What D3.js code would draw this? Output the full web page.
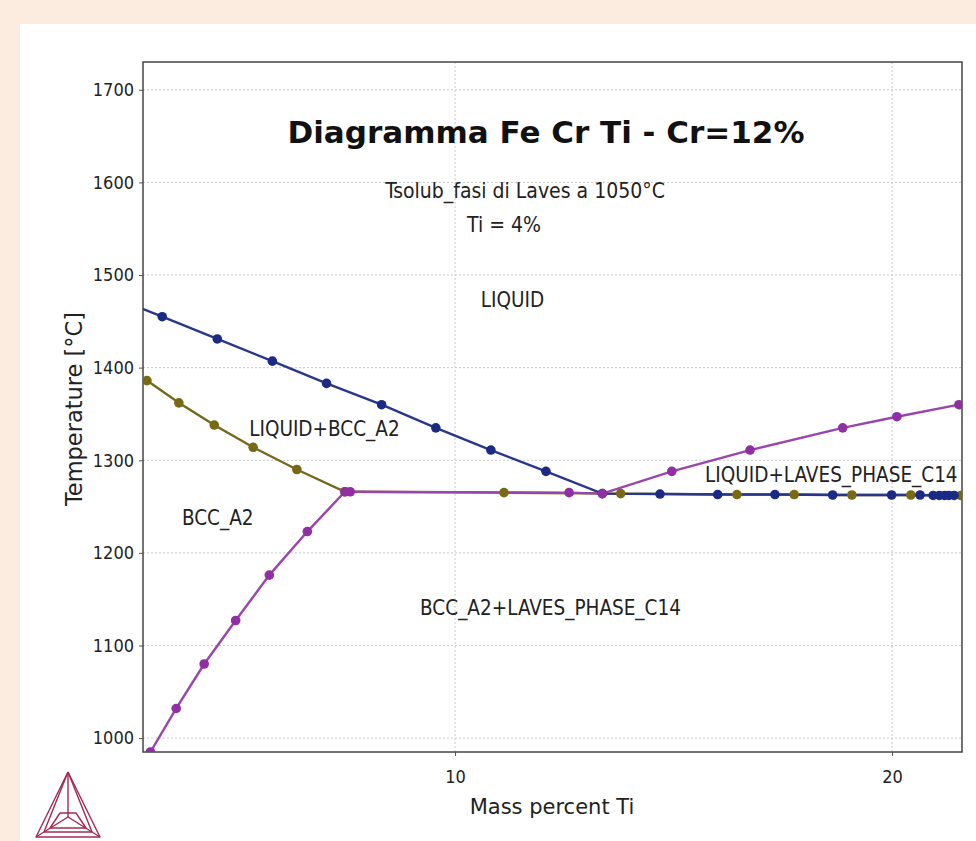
<!DOCTYPE html>
<html>
<head>
<meta charset="utf-8">
<script src="https://cdn.jsdelivr.net/npm/d3@7"></script>
<style>
  html, body { margin: 0; padding: 0; background: #fcebdf; }
  svg { display: block; }
</style>
</head>
<body>
<svg id="chart" width="976" height="841"></svg>
<script>
// Phase boundary data: mass percent Ti vs temperature (°C)
const liquidusTi = [2.04, 3.30, 4.56, 5.82, 7.06, 8.32, 9.56, 10.82, 12.08, 13.37, 14.69, 16.01, 17.32, 18.64, 19.99, 20.64, 20.94, 21.08, 21.20, 21.30, 21.42];
const liquidusT  = [1479, 1455, 1431, 1407, 1383, 1360, 1335, 1311, 1288, 1264, 1263.5, 1263, 1263, 1262.5, 1262.5, 1262.5, 1262, 1262, 1262, 1262, 1262];

const solidusTi = [2.95, 3.68, 4.49, 5.38, 6.38, 7.48, 11.12, 13.79, 16.45, 17.76, 19.08, 20.43, 21.57];
const solidusT  = [1386, 1362, 1338, 1314, 1290, 1266, 1265, 1264, 1263, 1263, 1262.5, 1262.5, 1262];

const lavesTi = [3.03, 3.62, 4.26, 4.98, 5.75, 6.62, 7.48, 7.60, 12.61, 13.37, 14.96, 16.75, 18.87, 20.11, 21.53];
const lavesT  = [985, 1032, 1080, 1127, 1176, 1223, 1266, 1266, 1265, 1264, 1288, 1311, 1335, 1347, 1360];

const yTicks = [1000, 1100, 1200, 1300, 1400, 1500, 1600, 1700];
const xTicks = [10, 20];

// phase field labels, anchored at their left edge
const phaseLabels = [
  { text: "LIQUID", ti: 10.59, t: 1465 },
  { text: "LIQUID+BCC_A2", ti: 5.29, t: 1326 },
  { text: "BCC_A2", ti: 3.75, t: 1230 },
  { text: "BCC_A2+LAVES_PHASE_C14", ti: 9.20, t: 1133 },
  { text: "LIQUID+LAVES_PHASE_C14", ti: 15.72, t: 1277 }
];

const series = [
  { name: "solidus", ti: solidusTi, t: solidusT, line: "#75681c", dot: "#7a6914" },
  { name: "liquidus", ti: liquidusTi, t: liquidusT, line: "#27378a", dot: "#1b2a84" },
  { name: "laves", ti: lavesTi, t: lavesT, line: "#9a44ad", dot: "#8f2fa3" }
];

const svg = d3.select("#chart");

// white panel on the peach page
svg.append("rect").attr("x", 20).attr("y", 24).attr("width", 956).attr("height", 817).attr("fill", "#ffffff");

const plot = { left: 143, right: 962, top: 62, bottom: 752 };
const x = d3.scaleLinear().domain([2.86, 21.6]).range([plot.left, plot.right]);
const y = d3.scaleLinear().domain([985, 1730]).range([plot.bottom, plot.top]);

const narrow = "'Liberation Sans Narrow', 'DejaVu Sans Condensed', 'Arial Narrow', sans-serif";

// grid
const grid = svg.append("g");
grid.selectAll("line.hy").data(yTicks).join("line")
  .attr("x1", plot.left).attr("x2", plot.right)
  .attr("y1", d => y(d)).attr("y2", d => y(d))
  .attr("stroke", "#c9c9c9").attr("stroke-width", 1).attr("stroke-dasharray", "2,2");
grid.selectAll("line.vx").data(xTicks).join("line")
  .attr("y1", plot.top).attr("y2", plot.bottom)
  .attr("x1", d => x(d)).attr("x2", d => x(d))
  .attr("stroke", "#c9c9c9").attr("stroke-width", 1).attr("stroke-dasharray", "2,2");

// axes
const yAxis = d3.axisLeft(y).tickValues(yTicks).tickSize(4).tickPadding(5).tickFormat(d3.format("d"));
const xAxis = d3.axisBottom(x).tickValues(xTicks).tickSize(4).tickPadding(14).tickFormat(d3.format("d"));

const gy = svg.append("g").attr("transform", `translate(${plot.left},0)`).call(yAxis);
const gx = svg.append("g").attr("transform", `translate(0,${plot.bottom})`).call(xAxis);
[gx, gy].forEach(g => {
  g.select(".domain").remove();
  g.selectAll(".tick line").attr("stroke", "#555");
  g.selectAll(".tick text").attr("fill", "#222").style("font-family", narrow).style("font-size", "18px");
});

// frame
svg.append("rect")
  .attr("x", plot.left).attr("y", plot.top)
  .attr("width", plot.right - plot.left).attr("height", plot.bottom - plot.top)
  .attr("fill", "none").attr("stroke", "#444").attr("stroke-width", 1.5);

// curves
svg.append("clipPath").attr("id", "plotClip").append("rect")
  .attr("x", plot.left).attr("y", plot.top)
  .attr("width", plot.right - plot.left).attr("height", plot.bottom - plot.top);

const curves = svg.append("g").attr("clip-path", "url(#plotClip)");
const line = d3.line().x(d => x(d[0])).y(d => y(d[1]));

series.forEach(s => {
  const pts = s.ti.map((v, i) => [v, s.t[i]]);
  curves.append("path").datum(pts)
    .attr("d", line).attr("fill", "none")
    .attr("stroke", s.line).attr("stroke-width", 2.4);
});
series.forEach(s => {
  const pts = s.ti.map((v, i) => [v, s.t[i]]);
  curves.append("g").selectAll("circle").data(pts).join("circle")
    .attr("cx", d => x(d[0])).attr("cy", d => y(d[1])).attr("r", 4.8)
    .attr("fill", s.dot);
});

// titles and labels
svg.append("text")
  .attr("x", 546).attr("y", 143).attr("text-anchor", "middle")
  .style("font-family", "'DejaVu Sans', sans-serif").style("font-weight", "bold").style("font-size", "31px")
  .attr("fill", "#111").text("Diagramma Fe Cr Ti - Cr=12%");

svg.append("text")
  .attr("x", 525).attr("y", 198).attr("text-anchor", "middle")
  .style("font-family", narrow).style("font-size", "21px")
  .attr("fill", "#222").text("Tsolub_fasi di Laves a 1050°C");

svg.append("text")
  .attr("x", 504).attr("y", 232).attr("text-anchor", "middle")
  .style("font-family", narrow).style("font-size", "21px")
  .attr("fill", "#222").text("Ti = 4%");

svg.append("g").selectAll("text").data(phaseLabels).join("text")
  .attr("x", d => x(d.ti)).attr("y", d => y(d.t)).attr("text-anchor", "start")
  .style("font-family", narrow).style("font-size", "20.5px")
  .attr("fill", "#222").text(d => d.text);

svg.append("text")
  .attr("x", 552).attr("y", 814).attr("text-anchor", "middle")
  .style("font-family", "'DejaVu Sans', sans-serif").style("font-size", "21px")
  .attr("fill", "#222").text("Mass percent Ti");

svg.append("text")
  .attr("transform", "translate(82,409) rotate(-90)").attr("text-anchor", "middle")
  .style("font-family", "'DejaVu Sans', sans-serif").style("font-size", "22.5px")
  .attr("fill", "#222").text("Temperature [°C]");

// tetrahedron logo
const logo = svg.append("g").attr("fill", "none").attr("stroke", "#a32a50").attr("stroke-width", 1.4).attr("stroke-linejoin", "round");
const A = [68, 772], B = [36, 837], C = [100, 837], O = [68, 817];
const Bi = [44, 832], Ci = [92, 832];
logo.append("path").attr("d", d3.line()([A, B, C, A]));
logo.append("path").attr("d", d3.line()([A, Bi, Ci, A]));
logo.append("path").attr("d", d3.line()([A, O]));
logo.append("path").attr("d", d3.line()([B, O, C]));
logo.append("path").attr("d", d3.line()([[60, 813], [76, 813], [86, 828], [50, 828], [60, 813]]));
</script>
</body>
</html>
